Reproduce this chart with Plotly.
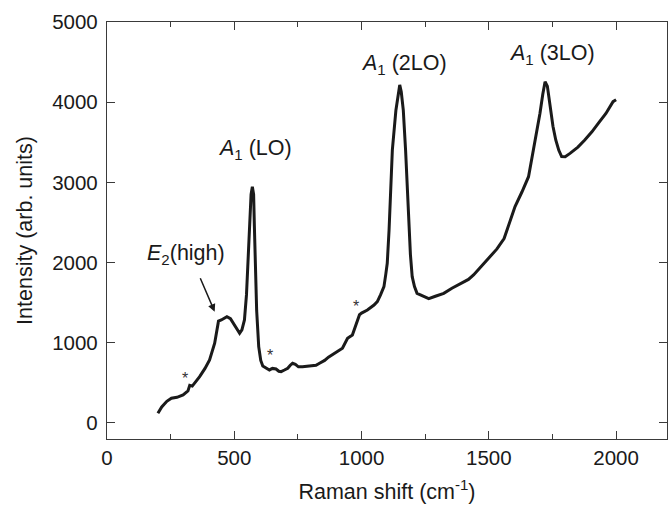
import plotly.graph_objects as go

# Raman spectrum
shift = [200, 215, 235, 253, 275, 299, 318, 325, 335, 350, 364, 385, 403, 423, 432, 438,
         449, 460, 471, 485, 501, 512, 521, 530, 540, 548, 553, 560, 566, 571, 576, 579,
         583, 588, 596, 604, 612, 625, 638, 650, 664, 675, 684, 697, 710, 720, 729, 740,
         752, 768, 790, 810, 821, 835, 855, 870, 886, 905, 925, 945, 964, 980, 992, 1000,
         1023, 1049, 1062, 1075, 1088, 1095, 1101, 1108, 1115, 1121, 1135, 1144, 1150, 1156,
         1164, 1173, 1180, 1186, 1192, 1199, 1208, 1218, 1240, 1264, 1290, 1323, 1355, 1388,
         1420, 1440, 1470, 1493, 1532, 1560, 1603, 1630, 1656, 1675, 1690, 1701, 1712, 1721,
         1730, 1740, 1752, 1763, 1775, 1786, 1800, 1819, 1850, 1877, 1905, 1930, 1960, 1988, 2000]
intensity = [120, 200, 270, 308, 320, 350, 400, 470, 460, 520, 578, 680, 786, 994, 1150, 1270,
             1284, 1300, 1326, 1300, 1222, 1160, 1118, 1160, 1284, 1600, 1908, 2450, 2850, 2947, 2850, 2450,
             1908, 1400, 952, 780, 710, 680, 661, 680, 673, 645, 640, 660, 682, 720, 744, 730,
             700, 702, 710, 712, 719, 745, 780, 820, 848, 890, 931, 1056, 1097, 1250, 1350, 1370,
             1409, 1471, 1513, 1600, 1700, 1850, 1991, 2400, 2900, 3404, 3900, 4130, 4215, 4130,
             3900, 3404, 2900, 2407, 2100, 1824, 1700, 1617, 1580, 1550, 1580, 1617, 1680, 1741,
             1790, 1846, 1950, 2033, 2170, 2300, 2698, 2880, 3071, 3404, 3650, 3862, 4100, 4256,
             4200, 3944, 3700, 3529, 3400, 3321, 3320, 3362, 3440, 3529, 3630, 3737, 3860, 4007, 4030]

# peak labels
peak_labels = ["<i>A</i><sub>1</sub> (LO)", "<i>A</i><sub>1</sub> (2LO)", "<i>A</i><sub>1</sub> (3LO)"]
peak_label_x = [583, 1166, 1748]
peak_label_y = [3404, 4464, 4589]

e2_label = "<i>E</i><sub>2</sub>(high)"
e2_label_pos = (309, 2095)
e2_arrow_tail = (364, 1824)
e2_arrow_head = (423, 1388)

star_x = [305, 642, 977]
star_y = [560, 842, 1453]

x_ticks = [0, 500, 1000, 1500, 2000]
y_ticks = [0, 1000, 2000, 3000, 4000, 5000]

FONT = "Liberation Sans, Arial, Helvetica, sans-serif"
INK = "#1a1a1a"
AXIS = "#3a3a3a"

fig = go.Figure()
fig.add_trace(go.Scatter(x=shift, y=intensity, mode="lines",
                         line=dict(color=INK, width=3), showlegend=False, hoverinfo="skip"))

for t, x, y in zip(peak_labels, peak_label_x, peak_label_y):
    fig.add_annotation(x=x, y=y, text=t, showarrow=False, xanchor="center", yanchor="middle",
                       font=dict(family=FONT, size=21.5, color=INK))

fig.add_annotation(x=e2_label_pos[0], y=e2_label_pos[1], text=e2_label, showarrow=False,
                   xanchor="center", yanchor="middle", font=dict(family=FONT, size=21.5, color=INK))
fig.add_annotation(x=e2_arrow_head[0], y=e2_arrow_head[1], ax=e2_arrow_tail[0], ay=e2_arrow_tail[1],
                   axref="x", ayref="y", text="", showarrow=True, arrowhead=2, arrowsize=1,
                   arrowwidth=1.5, arrowcolor=INK)

for x, y in zip(star_x, star_y):
    fig.add_annotation(x=x, y=y, text="*", showarrow=False, xanchor="center", yanchor="middle",
                       font=dict(family=FONT, size=16, color="#333333"))

axis_common = dict(showgrid=False, zeroline=False, showline=True, linecolor=AXIS, linewidth=1.3,
                   mirror="ticks", ticks="inside", tickcolor=AXIS, tickwidth=1.3, ticklen=8,
                   automargin=False, tickfont=dict(family=FONT, size=20.5, color=INK))

fig.update_xaxes(range=[0, 2200], tickvals=x_ticks, ticktext=[str(v) for v in x_ticks],
                 minor=dict(dtick=250, tick0=0, ticks="inside", ticklen=5, tickcolor=AXIS, tickwidth=1.3),
                 title=dict(text="Raman shift (cm<sup>-1</sup>)", font=dict(family=FONT, size=21.5, color=INK),
                            standoff=16),
                 **axis_common)
fig.update_yaxes(range=[-200, 5000], tickvals=y_ticks, ticktext=[str(v) for v in y_ticks],
                 ticklabelstandoff=4,
                 title=dict(text="Intensity (arb. units)", font=dict(family=FONT, size=21.5, color=INK),
                            standoff=13),
                 **axis_common)

fig.update_layout(width=670, height=507, margin=dict(l=107, r=3, t=22, b=68),
                  plot_bgcolor="white", paper_bgcolor="white")
fig.write_html("out.html", config={"displayModeBar": False},
               post_script="document.body.style.margin='0px';document.body.style.overflow='hidden';")
